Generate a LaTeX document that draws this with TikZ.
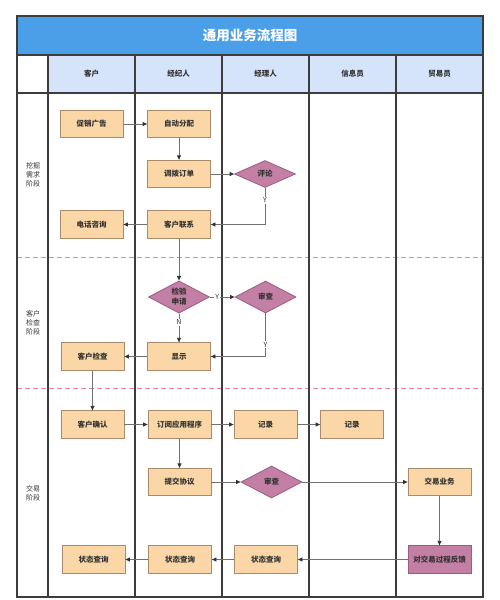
\documentclass[tikz,border=0pt]{standalone}
\usepackage{fontspec}
\setmainfont{Noto Sans CJK SC}
\usetikzlibrary{shapes.geometric,arrows.meta}
\definecolor{titleblue}{HTML}{4A9FE8}
\definecolor{headblue}{HTML}{D6E4FB}
\definecolor{boxfill}{HTML}{FBD6A6}
\definecolor{boxline}{HTML}{A98B6B}
\definecolor{diafill}{HTML}{C47FA5}
\definecolor{dialine}{HTML}{9A5C80}
\definecolor{laneline}{HTML}{3C3C3C}
\definecolor{dashpink}{HTML}{EA7FAA}
\definecolor{txt}{HTML}{333333}
\definecolor{arr}{HTML}{707070}
\begin{document}
\begin{tikzpicture}[x=1pt,y=-1pt,
  procbox/.style={rectangle, draw=boxline, fill=boxfill, line width=0.8pt,
    minimum width=63pt, minimum height=27.5pt, inner sep=1pt,
    font=\fontsize{7.5}{9}\selectfont\bfseries, text=txt},
  decide/.style={diamond, draw=dialine, fill=diafill, line width=0.8pt,
    minimum width=61pt, minimum height=32pt, inner sep=0pt, align=center,
    font=\fontsize{7.5}{10}\selectfont\bfseries, text=txt},
  flow/.style={draw=arr, line width=0.8pt, -{Triangle[length=4.5pt,width=4pt,color=black!80]}},
  lbl/.style={fill=white, inner sep=1pt, font=\fontsize{7}{8}\selectfont, text=txt},
  headtxt/.style={font=\fontsize{7.5}{9}\selectfont\bfseries, text=txt},
  phasetxt/.style={font=\fontsize{7}{9.3}\selectfont, text=txt, align=center},
  lane/.style={draw=laneline, line width=1.1pt},
  sep/.style={draw=dashpink, line width=0.9pt, dash pattern=on 5pt off 3pt}
]
\useasboundingbox (0,0) rectangle (500,600);
\fill[white] (0,0) rectangle (500,600);
% title and header
\fill[titleblue] (17,16) rectangle (483,55);
\fill[headblue] (48,55) rectangle (483,93);
\node[text=white, font=\fontsize{13.5}{15}\selectfont\bfseries] (title) at (250,35.5) {通用业务流程图};
\node[headtxt] (h1) at (91.5,74) {客户};
\node[headtxt] (h2) at (178.5,74) {经纪人};
\node[headtxt] (h3) at (265.5,74) {经理人};
\node[headtxt] (h4) at (352.5,74) {信息员};
\node[headtxt] (h5) at (439.5,74) {贸易员};
% phase separators
\draw[sep] (17,257) -- (483,257);
\draw[sep] (17,388) -- (483,388);
% lanes
\draw[lane] (17,16) rectangle (483,597);
\draw[lane] (17,55) -- (483,55);
\draw[lane] (17,93) -- (483,93);
\foreach \xx in {48,135,222,309,396} \draw[lane] (\xx,55) -- (\xx,597);
% phase labels
\node[phasetxt] (p1) at (33,175) {挖掘\\需求\\阶段};
\node[phasetxt] (p2) at (33,323) {客户\\检查\\阶段};
\node[phasetxt] (p3) at (33,493) {交易\\阶段};
% phase 1
\node[procbox] (cx) at (91.5,124) {促销广告};
\node[procbox] (zd) at (179,124) {自动分配};
\node[procbox] (db) at (179,174) {调拨订单};
\node[decide, minimum height=27pt] (pl) at (265,174) {评论};
\node[procbox] (dh) at (91.5,224.5) {电话咨询};
\node[procbox] (kl) at (179,224.5) {客户联系};
% phase 2
\node[decide] (jy) at (179,297) {检验\\申请};
\node[decide] (sc1) at (265.5,297) {审查};
\node[procbox] (xs) at (179,356.5) {显示};
\node[procbox] (kj) at (92.5,356.5) {客户检查};
% phase 3
\node[procbox] (kq) at (92.5,424.5) {客户确认};
\node[procbox] (dy) at (179.5,424.5) {订阅应用程序};
\node[procbox] (jl1) at (265.5,424.5) {记录};
\node[procbox] (jl2) at (352,424.5) {记录};
\node[procbox] (tj) at (179.5,482) {提交协议};
\node[decide] (sc2) at (271.5,482) {审查};
\node[procbox] (jyw) at (439.5,482) {交易业务};
\node[procbox, fill=diafill, draw=dialine] (fk) at (439.5,559.5) {对交易过程反馈};
\node[procbox] (zt3) at (266,559.5) {状态查询};
\node[procbox] (zt2) at (180,559.5) {状态查询};
\node[procbox] (zt1) at (93.5,559.5) {状态查询};
% connectors
\draw[flow] (cx) -- (zd);
\draw[flow] (zd) -- (db);
\draw[flow] (db) -- (pl);
\draw[flow] (pl.south) |- node[lbl, pos=0.17] {Y} (kl.east);
\draw[flow] (kl) -- (dh);
\draw[flow] (kl) -- (jy);
\draw[flow] (jy) -- node[lbl, pos=0.3] {Y} (sc1);
\draw[flow] (jy) -- node[lbl, pos=0.3] {N} (xs);
\draw[flow] (sc1.south) |- node[lbl, pos=0.36] {Y} (xs.east);
\draw[flow] (xs) -- (kj);
\draw[flow] (kj) -- (kq);
\draw[flow] (kq) -- (dy);
\draw[flow] (dy) -- (jl1);
\draw[flow] (jl1) -- (jl2);
\draw[flow] (dy) -- (tj);
\draw[flow] (tj) -- (sc2);
\draw[flow] (sc2) -- (jyw);
\draw[flow] (jyw) -- (fk);
\draw[flow] (fk) -- (zt3);
\draw[flow] (zt3) -- (zt2);
\draw[flow] (zt2) -- (zt1);
\end{tikzpicture}
\end{document}
